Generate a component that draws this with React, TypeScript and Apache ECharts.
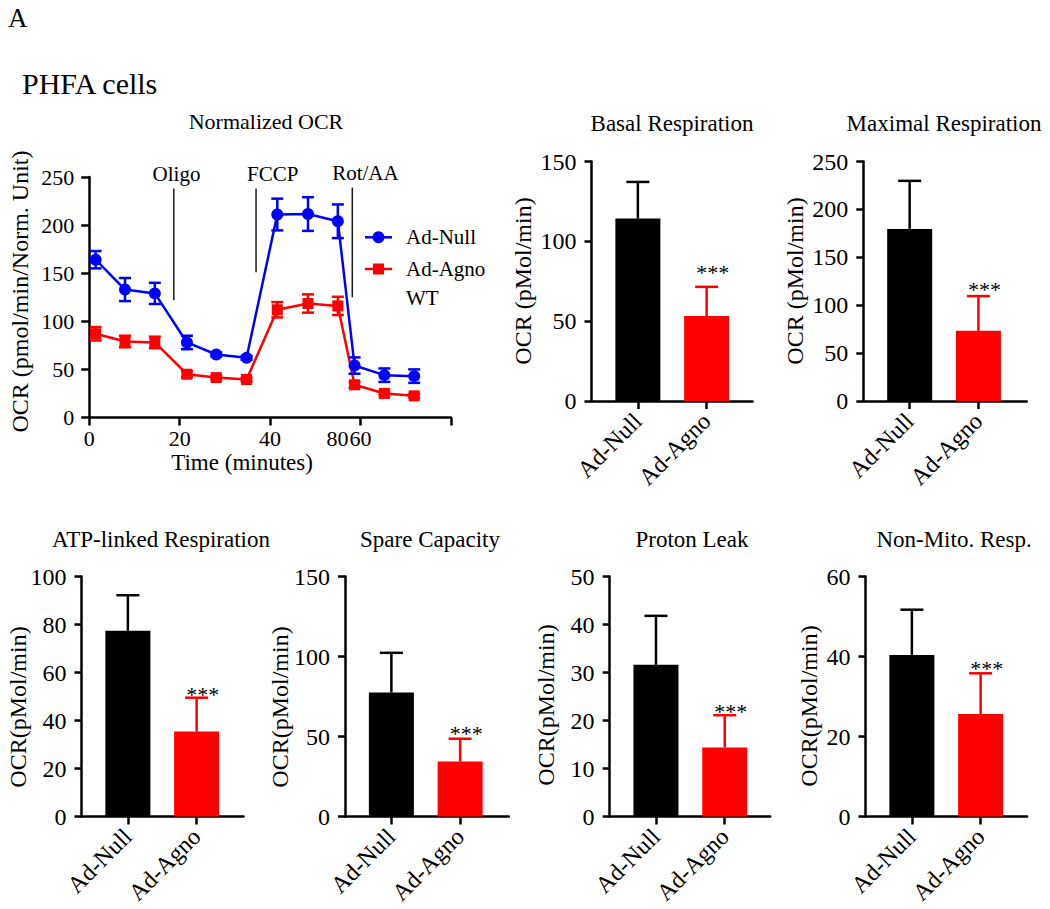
import React, { useEffect, useRef } from 'react';
import * as echarts from 'echarts';

const FONT = '"Liberation Serif", "Times New Roman", serif';
const BLUE = '#0000FF';
const RED = '#FF0000';
const BLACK = '#000000';

// ---- Normalized OCR time course ----
const times = [1.4, 7.9, 14.5, 21.6, 28.1, 34.8, 41.6, 48.4, 55.0, 58.7, 65.3, 71.9];
const nullMean = [164, 133, 129, 78, 65.5, 62, 211, 211.5, 204, 54, 44, 43];
const nullErr = [9, 12, 11, 7, 2, 2, 16.5, 17.5, 17.5, 8.5, 7, 7];
const agnoMean = [87, 79, 78, 45, 41.5, 39.5, 112, 118.5, 116, 34, 25, 22.5];
const agnoErr = [7, 6, 6, 3, 2, 2, 8, 9.5, 9.5, 3, 2, 2];
const seriesNames = ['Ad-Null', 'Ad-Agno\nWT'];
const injectNames = ['Oligo', 'FCCP', 'Rot/AA'];
const injectTimes = [18.7, 36.9, 58.2];
const injectLow = [122, 151, 125];
const injectHigh = [238, 238, 239];
const injectLabelTimes = [19.3, 40.6, 61.1];
const lineYTicks = [0, 50, 100, 150, 200, 250];
const lineXTicks = [0, 20, 40, 60];
const lineXTickLabels = ['0', '20', '40', '60'];
const lineXStrayLabel = '80'; // printed just left of the 60 label in the original
const lineYName = 'OCR (pmol/min/Norm. Unit)';
const lineXName = 'Time (minutes)';

// ---- bar panels ----
const groups = ['Ad-Null', 'Ad-Agno'];
const sig = ['', '***'];
const basalMean = [114.3, 53.2];
const basalErr = [22.9, 18.3];
const maximalMean = [179.6, 73.2];
const maximalErr = [50.2, 36.3];
const atpMean = [77.4, 35.4];
const atpErr = [14.8, 14.1];
const spareMean = [77.5, 34.4];
const spareErr = [24.8, 14.2];
const protonMean = [31.6, 14.4];
const protonErr = [10.2, 6.7];
const nonMitoMean = [40.4, 25.6];
const nonMitoErr = [11.3, 10.2];

const basalTicks = [0, 50, 100, 150];
const maximalTicks = [0, 50, 100, 150, 200, 250];
const atpTicks = [0, 20, 40, 60, 80, 100];
const spareTicks = [0, 50, 100, 150];
const protonTicks = [0, 10, 20, 30, 40, 50];
const nonMitoTicks = [0, 20, 40, 60];

const panelTitles = ['Basal Respiration', 'Maximal Respiration', 'ATP-linked Respiration', 'Spare Capacity', 'Proton Leak', 'Non-Mito. Resp.'];
const panelMeans = [basalMean, maximalMean, atpMean, spareMean, protonMean, nonMitoMean];
const panelErrs = [basalErr, maximalErr, atpErr, spareErr, protonErr, nonMitoErr];
const panelTicks = [basalTicks, maximalTicks, atpTicks, spareTicks, protonTicks, nonMitoTicks];
const panelYName = ['OCR (pMol/min)', 'OCR (pMol/min)', 'OCR(pMol/min)', 'OCR(pMol/min)', 'OCR(pMol/min)', 'OCR(pMol/min)'];

// layout (pixels)
const panelLayout = [
  { axisX: 591.5, endX: 752.5, top: 161.5, height: 239.5, titleX: 672, titleY: 123, nameX: 523, nameY: 281, starGap: 20 },
  { axisX: 863.3, endX: 1026.7, top: 161.5, height: 239.5, titleX: 944, titleY: 123, nameX: 795, nameY: 281, starGap: 12 },
  { axisX: 81.5, endX: 243.5, top: 576.5, height: 240, titleX: 161, titleY: 539.5, nameX: 18, nameY: 707, starGap: 9 },
  { axisX: 345, endX: 508.8, top: 576.5, height: 240, titleX: 430, titleY: 539.5, nameX: 280, nameY: 707, starGap: 10.5 },
  { axisX: 609.6, endX: 770.2, top: 576.5, height: 240, titleX: 692, titleY: 539.5, nameX: 546, nameY: 705, starGap: 9 },
  { axisX: 865.5, endX: 1027, top: 576.5, height: 240, titleX: 954, titleY: 539.5, nameX: 809, nameY: 706, starGap: 10 },
];
const barColors = [BLACK, RED];
const axisLineStyle = { color: BLACK, width: 2.5 };

const txt = (size: number, align = 'left', valign = 'middle') => ({
  font: `${size}px ${FONT}`, fill: BLACK,
  align, verticalAlign: valign, textAlign: align, textVerticalAlign: valign,
});

// tick labels of a value y axis, placed through the axis scale
const yTickLabelSeries = (xIdx: number, yIdx: number, ticks: number[], size: number, margin: number) => ({
  type: 'custom', xAxisIndex: xIdx, yAxisIndex: yIdx, clip: false, silent: true, z: 6,
  data: ticks.map((t) => [0, t]),
  renderItem: (params: any, api: any) => {
    const p = api.coord([api.value(0), api.value(1)]);
    return { type: 'text', x: p[0] - margin, y: p[1], style: { text: String(ticks[params.dataIndex]), ...txt(size, 'right', 'middle') } };
  },
});

export default function App() {
  const ref = useRef<HTMLDivElement>(null);

  useEffect(() => {
    if (!ref.current) return;
    const chart = echarts.init(ref.current, null, { renderer: 'svg' });

    const grids: any[] = [];
    const xAxes: any[] = [];
    const yAxes: any[] = [];
    const series: any[] = [];
    const graphic: any[] = [];

    // ---------- line chart ----------
    grids.push({ left: 89.3, top: 177, width: 361.5, height: 240.5, containLabel: false });
    xAxes.push({
      gridIndex: 0, type: 'value', min: 0, max: 80, interval: 20,
      axisLine: { show: true, lineStyle: axisLineStyle },
      axisTick: { show: true, length: 8, lineStyle: axisLineStyle },
      splitLine: { show: false },
      axisLabel: { show: false },
      name: lineXName, nameLocation: 'middle', nameGap: 33,
      nameTextStyle: { color: BLACK, fontFamily: FONT, fontSize: 23, padding: [0, 56, 0, 0] },
    });
    yAxes.push({
      gridIndex: 0, type: 'value', min: 0, max: 250, interval: 50,
      axisLine: { show: true, lineStyle: axisLineStyle },
      axisTick: { show: true, length: 8, lineStyle: axisLineStyle },
      splitLine: { show: false },
      axisLabel: { show: false },
    });
    series.push(yTickLabelSeries(0, 0, lineYTicks, 22, 15));
    series.push({
      type: 'custom', xAxisIndex: 0, yAxisIndex: 0, clip: false, silent: true, z: 6,
      data: lineXTicks.map((t) => [t, 0]),
      renderItem: (params: any, api: any) => {
        const p = api.coord([api.value(0), api.value(1)]);
        const i = params.dataIndex;
        const children: any[] = [
          { type: 'text', x: p[0], y: p[1] + 21, style: { text: lineXTickLabels[i], ...txt(22, 'center', 'middle') } },
        ];
        if (i === lineXTicks.length - 1) {
          children.push({ type: 'text', x: p[0] - 12, y: p[1] + 21, style: { text: lineXStrayLabel, ...txt(22, 'right', 'middle') } });
        }
        return { type: 'group', children };
      },
    });
    graphic.push({
      type: 'text', x: 20, y: 291.5, rotation: Math.PI / 2,
      style: { text: lineYName, ...txt(24, 'center', 'middle') },
    });

    const lineDefs = [
      { name: seriesNames[0], mean: nullMean, err: nullErr, color: BLUE, symbol: 'circle', size: 12 },
      { name: seriesNames[1], mean: agnoMean, err: agnoErr, color: RED, symbol: 'rect', size: 11 },
    ];
    lineDefs.forEach((d) => {
      series.push({
        type: 'line', name: d.name, xAxisIndex: 0, yAxisIndex: 0,
        data: times.map((t, i) => [t, d.mean[i]]),
        symbol: d.symbol, symbolSize: d.size, showSymbol: true,
        lineStyle: { color: d.color, width: 2.5 },
        itemStyle: { color: d.color },
        z: 3,
      });
      series.push({
        type: 'custom', name: d.name + ' err', xAxisIndex: 0, yAxisIndex: 0, z: 4,
        data: times.map((t, i) => [t, d.mean[i], d.err[i]]),
        renderItem: (params: any, api: any) => {
          const t = api.value(0), m = api.value(1), e = api.value(2);
          const lo = api.coord([t, m - e]);
          const hi = api.coord([t, m + e]);
          const st = { stroke: d.color, lineWidth: 2.5 };
          const c = 6;
          return {
            type: 'group',
            children: [
              { type: 'line', shape: { x1: lo[0], y1: lo[1], x2: hi[0], y2: hi[1] }, style: st },
              { type: 'line', shape: { x1: lo[0] - c, y1: lo[1], x2: lo[0] + c, y2: lo[1] }, style: st },
              { type: 'line', shape: { x1: hi[0] - c, y1: hi[1], x2: hi[0] + c, y2: hi[1] }, style: st },
            ],
          };
        },
      });
    });

    // injection markers
    series.push({
      type: 'custom', name: 'injections', xAxisIndex: 0, yAxisIndex: 0, z: 5, clip: false,
      data: injectTimes.map((t, i) => [t, injectLow[i], injectHigh[i], injectLabelTimes[i]]),
      renderItem: (params: any, api: any) => {
        const t = api.value(0), lo = api.value(1), hi = api.value(2), lt = api.value(3);
        const p0 = api.coord([t, lo]);
        const p1 = api.coord([t, hi]);
        const pl = api.coord([lt, hi]);
        return {
          type: 'group',
          children: [
            { type: 'line', shape: { x1: p0[0], y1: p0[1], x2: p1[0], y2: p1[1] }, style: { stroke: '#1a1a1a', lineWidth: 1.5 } },
            { type: 'text', x: pl[0], y: p1[1] - 15, style: { text: injectNames[params.dataIndex], ...txt(21, 'center', 'middle') } },
          ],
        };
      },
    });

    // ---------- bar panels ----------
    panelLayout.forEach((L, k) => {
      const ticks = panelTicks[k];
      const max = ticks[ticks.length - 1];
      const interval = ticks[1] - ticks[0];
      const gFull = grids.length;
      grids.push({ left: L.axisX, top: L.top, width: L.endX - L.axisX, height: L.height, containLabel: false });
      const gBars = grids.length;
      grids.push({ left: L.axisX + 12, top: L.top, width: 137.5, height: L.height, containLabel: false });

      const xFull = xAxes.length;
      xAxes.push({
        gridIndex: gFull, type: 'value', min: 0, max: 1,
        axisLine: { show: true, onZero: false, lineStyle: axisLineStyle },
        axisTick: { show: false }, axisLabel: { show: false }, splitLine: { show: false },
      });
      const yFull = yAxes.length;
      yAxes.push({
        gridIndex: gFull, type: 'value', min: 0, max, interval,
        axisLine: { show: true, lineStyle: axisLineStyle },
        axisTick: { show: true, length: 7, lineStyle: axisLineStyle },
        splitLine: { show: false },
        axisLabel: { show: false },
      });
      series.push(yTickLabelSeries(xFull, yFull, ticks, 24, 15));

      const xBars = xAxes.length;
      xAxes.push({
        gridIndex: gBars, type: 'category', data: groups,
        axisLine: { show: false },
        axisTick: { show: true, alignWithLabel: true, length: 8, lineStyle: axisLineStyle },
        splitLine: { show: false },
        axisLabel: { color: BLACK, fontFamily: FONT, fontSize: 24, rotate: 45, margin: 16, interval: 0 },
      });
      const yBars = yAxes.length;
      yAxes.push({ gridIndex: gBars, type: 'value', min: 0, max, show: false });

      const means = panelMeans[k];
      const errs = panelErrs[k];
      series.push({
        type: 'bar', name: panelTitles[k], xAxisIndex: xBars, yAxisIndex: yBars,
        barWidth: 45,
        data: means.map((v, i) => ({ value: v, itemStyle: { color: barColors[i] } })),
        z: 2,
      });
      series.push({
        type: 'custom', name: panelTitles[k] + ' err', xAxisIndex: xBars, yAxisIndex: yBars, z: 3, clip: false,
        data: means.map((v, i) => [i, v, errs[i]]),
        renderItem: (params: any, api: any) => {
          const i = api.value(0), v = api.value(1), e = api.value(2);
          const base = api.coord([i, v]);
          const top = api.coord([i, v + e]);
          const color = barColors[i];
          const st = { stroke: color, lineWidth: 2.5 };
          const children: any[] = [
            { type: 'line', shape: { x1: base[0], y1: base[1], x2: top[0], y2: top[1] }, style: st },
            { type: 'line', shape: { x1: top[0] - 11.5, y1: top[1], x2: top[0] + 11.5, y2: top[1] }, style: st },
          ];
          if (sig[i]) {
            children.push({
              type: 'text', x: top[0] + 6, y: top[1] - L.starGap + 5.5,
              style: { text: sig[i], ...txt(22, 'center', 'middle') },
            });
          }
          return { type: 'group', children };
        },
      });

      graphic.push({
        type: 'text', x: L.nameX, y: L.nameY, rotation: Math.PI / 2,
        style: { text: panelYName[k], ...txt(24, 'center', 'middle') },
      });
    });

    const titles: any[] = [
      { text: 'Normalized OCR', left: 266, top: 121.7, fontSize: 22 },
      ...panelTitles.map((t, k) => ({ text: t, left: panelLayout[k].titleX, top: panelLayout[k].titleY, fontSize: 23 })),
    ].map((t) => ({
      text: t.text, left: t.left, top: t.top, padding: 0,
      textAlign: 'center', textVerticalAlign: 'middle',
      textStyle: { fontFamily: FONT, fontSize: t.fontSize, fontWeight: 'normal', color: BLACK },
    }));

    graphic.push(
      { type: 'text', x: 8, y: 18, style: { text: 'A', ...txt(27) } },
      { type: 'text', x: 22, y: 83, style: { text: 'PHFA cells', ...txt(30) } },
      // legend
      { type: 'line', shape: { x1: 365, y1: 237.3, x2: 392, y2: 237.3 }, style: { stroke: BLUE, lineWidth: 2.5 } },
      { type: 'circle', shape: { cx: 378.5, cy: 237.3, r: 6 }, style: { fill: BLUE } },
      { type: 'text', x: 406, y: 237.3, style: { text: seriesNames[0], ...txt(21) } },
      { type: 'line', shape: { x1: 365, y1: 269, x2: 392, y2: 269 }, style: { stroke: RED, lineWidth: 2.5 } },
      { type: 'rect', shape: { x: 373, y: 263.5, width: 11, height: 11 }, style: { fill: RED } },
      { type: 'text', x: 406, y: 254.5, style: { text: seriesNames[1], lineHeight: 29, ...txt(21, 'left', 'top') } },
    );

    chart.setOption({
      animation: false,
      backgroundColor: '#ffffff',
      textStyle: { fontFamily: FONT, color: BLACK },
      title: titles,
      grid: grids,
      xAxis: xAxes,
      yAxis: yAxes,
      series,
      graphic,
    });

    return () => chart.dispose();
  }, []);

  return (
    <div
      ref={ref}
      style={{ position: 'absolute', left: 0, top: 0, width: 1050, height: 909, background: '#fff' }}
    />
  );
}
